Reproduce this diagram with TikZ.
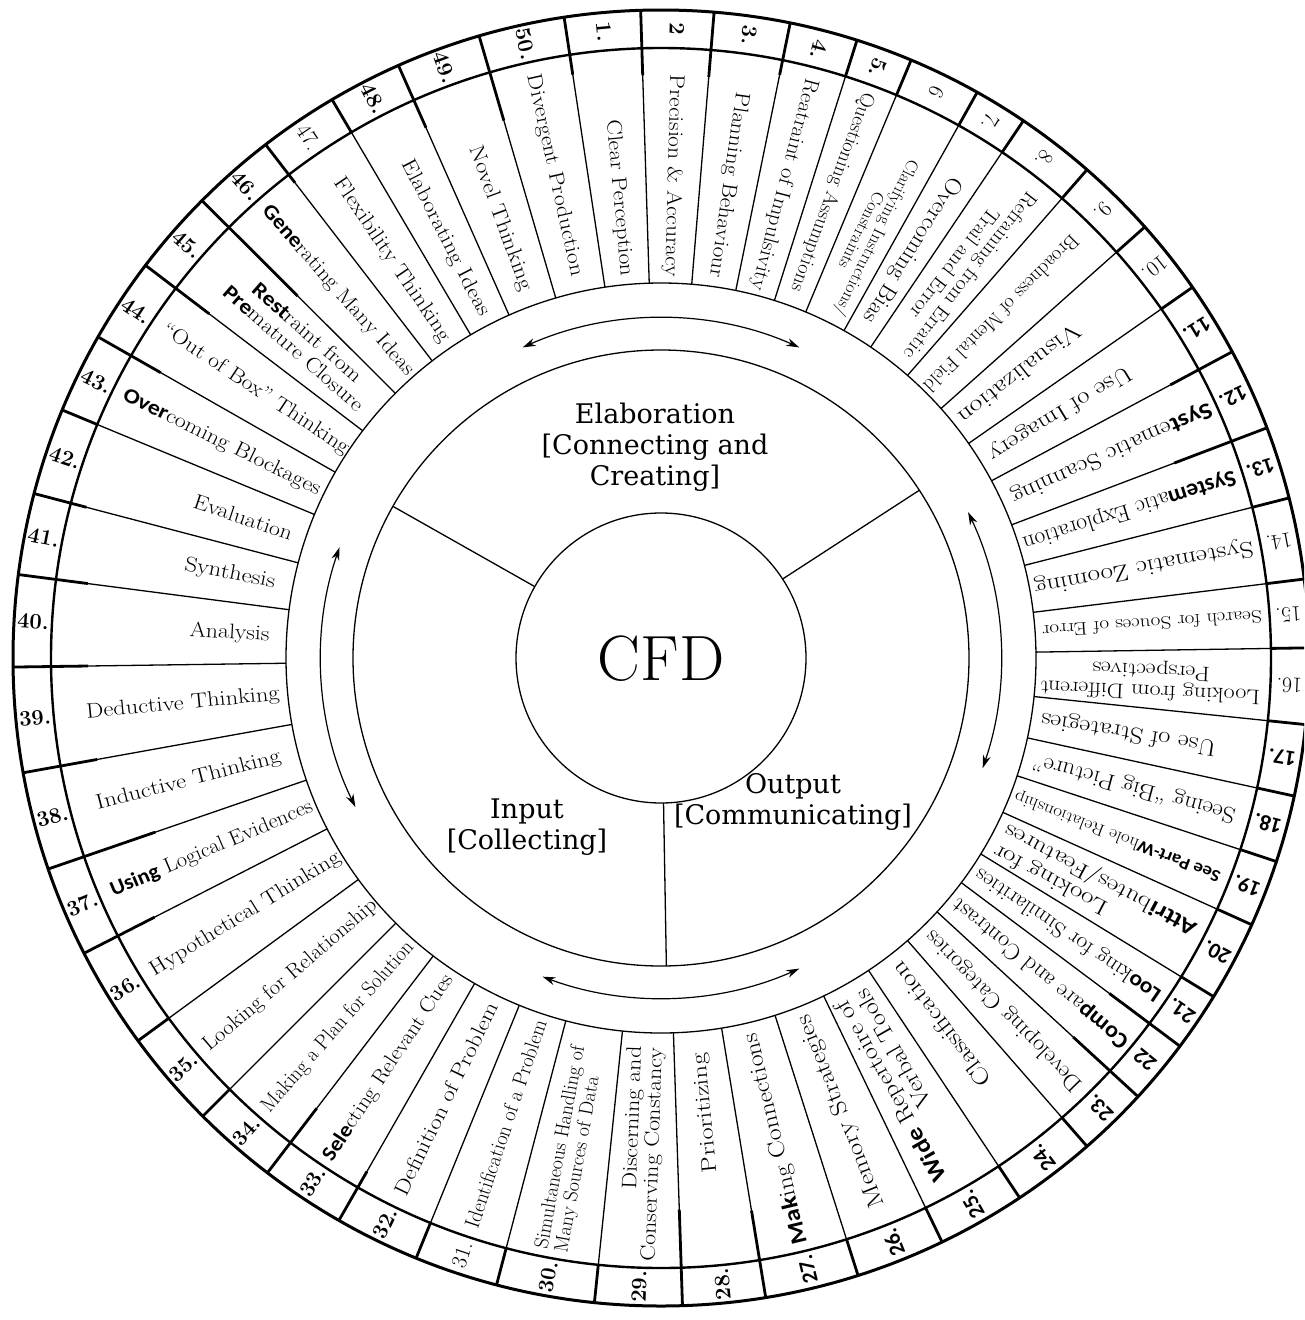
\documentclass[tikz,border=0pt]{standalone}
\usepackage{fontspec}
\usepackage{graphicx}
\usetikzlibrary{arrows.meta}
\newfontfamily\widefont{DejaVu Serif}
\newfontfamily\overlayfont{Carlito}
\newcommand\ov[1]{{\overlayfont\bfseries #1}}
% sector label: name, mid angle, inner end radius, length along the ray, font size, text
\newcommand\seg[6]{\node[segtext, rotate={#2+180}] (#1) at ({#2}:{#3pt})
  {\resizebox{#4pt}{\height}{\fontsize{#5}{#5}\selectfont #6}};}
% ring number: name, angle, text
\newcommand\num[3]{\node[numtext, rotate={#2+180}] (#1) at ({#2}:629pt) {#3};}
\begin{document}
\begin{tikzpicture}[x=1pt,y=1pt,
  ringline/.style={line width=2.8pt},
  segline/.style={line width=1.3pt},
  thinring/.style={line width=1.3pt},
  arr/.style={line width=1.2pt,{Stealth[length=13pt,width=8pt]}-{Stealth[length=13pt,width=8pt]}},
  segtext/.style={anchor=east, inner sep=0pt},
  numtext/.style={inner sep=0pt, font=\fontsize{22}{24}\selectfont},
  midlabel/.style={align=center, inner sep=0pt, font=\widefont\fontsize{27}{31}\selectfont}]
\useasboundingbox (0,0) rectangle (1304,-1320);
\clip (0,0) rectangle (1304,-1320);
\fill[white] (0,0) rectangle (1304,-1320);
\begin{scope}[shift={(661,-658)}]
  % circles
  \draw[line width=3pt] (0,0) circle[radius=648pt];
  \draw[line width=2.4pt] (0,0) circle[radius=610pt];
  \draw[thinring] (0,0) circle[radius=375pt];
  \draw[thinring] (0,0) circle[radius=308pt];
  \draw[thinring] (0,0) circle[radius=145pt];
  % sector boundaries
  \foreach \a in {98.6,91.8,85.3,78.5,72.4,67.3,60.8,56.0,48.9,41.7,34.9,28.2,20.8,14.3,7.0,0.9,
                  -5.9,-12.3,-18.3,-24.3,-31.5,-36.8,-42.6,-48.9,-56.4,-64.3,-72.3,-80.7,-88.1,-95.9,
                  -104.7,-112.2,-119.8,-127.4,-135,-143.8,-152.9,-161,-169.8,-179.2,
                  172.6,165.3,157.5,150.3,142.7,135.1,127.6,120.5,113.9,106.3}{
    \draw[segline] (\a:375pt) -- (\a:610pt);
    \draw[ringline] (\a:610pt) -- (\a:648pt);
  }
  % heavier stubs running in from the number ring
  \foreach \a/\r in {106.3/560,98.6/590,91.8/583,85.3/583,78.5/595,28.2/578,20.8/549,
                     -36.8/560,-42.6/560,-80.7/560,-88.1/552,-119.8/592,-127.4/567,
                     -152.9/569,-161/535,-169.8/573,-179.2/573,172.6/578,165.3/594,
                     150.3/576,142.7/568,135.1/513,127.6/600,113.9/580}{
    \draw[ringline] (\a:\r pt) -- (\a:610pt);
  }
  % inner dividers
  \draw[thinring] (150.5:145pt) -- (150.5:308pt);
  \draw[thinring] (33:145pt) -- (33:308pt);
  \draw[thinring] (-89:145pt) -- (-89:308pt);
  % cycle arrows
  \draw[arr] (66:340pt) arc[start angle=66, end angle=114, radius=340pt];
  \draw[arr] (25.4:340pt) arc[start angle=25.4, end angle=-18.9, radius=340pt];
  \draw[arr] (-66:340pt) arc[start angle=-66, end angle=-110.4, radius=340pt];
  \draw[arr] (161:340pt) arc[start angle=161, end angle=206, radius=340pt];
  % centre labels
  \node[font=\fontsize{64}{64}\selectfont, inner sep=0pt] (cfd) at (0,-1) {CFD};
  \node[midlabel] (elab) at (-6,211) {Elaboration\\{[}Connecting and\\Creating]};
  \node[midlabel] (inp) at (-134,-169) {Input\\{[}Collecting]};
  \node[midlabel] (outp) at (132,-144) {Output\\{[}Communicating]};
  % ring numbers
  \num{n1}{95.2}{\bfseries 1.}
  \num{n2}{88.55}{\bfseries 2}
  \num{n3}{81.9}{\bfseries 3.}
  \num{n4}{75.45}{\bfseries 4.}
  \num{n5}{69.85}{\bfseries 5.}
  \num{n6}{64.05}{6}
  \num{n7}{58.4}{7.}
  \num{n8}{52.45}{8.}
  \num{n9}{45.3}{9.}
  \num{n10}{38.3}{10.}
  \num{n11}{31.55}{\ov{11.}}
  \num{n12}{24.5}{\ov{12.}}
  \num{n13}{17.55}{\ov{13.}}
  \num{n14}{10.65}{14.}
  \num{n15}{3.95}{15.}
  \num{n16}{-2.5}{16.}
  \num{n17}{-9.1}{\ov{17.}}
  \num{n18}{-15.3}{\ov{18.}}
  \num{n19}{-21.3}{\ov{19.}}
  \num{n20}{-27.9}{\ov{20.}}
  \num{n21}{-34.15}{\ov{21.}}
  \num{n22}{-39.7}{\ov{22}}
  \num{n23}{-45.75}{\ov{23.}}
  \num{n24}{-52.65}{\ov{24.}}
  \num{n25}{-60.35}{\ov{25.}}
  \num{n26}{-68.3}{\ov{26.}}
  \num{n27}{-76.5}{\ov{27.}}
  \num{n28}{-84.4}{\bfseries 28.}
  \num{n29}{-92}{\bfseries 29.}
  \num{n30}{-100.3}{\bfseries 30.}
  \num{n31}{-108.45}{31.}
  \num{n32}{-116}{\bfseries 32.}
  \num{n33}{-123.6}{\bfseries 33.}
  \num{n34}{-131.2}{\bfseries 34.}
  \num{n35}{-139.4}{\bfseries 35.}
  \num{n36}{-148.35}{\bfseries 36.}
  \num{n37}{-156.95}{\bfseries 37.}
  \num{n38}{-165.4}{\bfseries 38.}
  \num{n39}{-174.5}{\bfseries 39.}
  \num{n40}{-183.3}{\bfseries 40.}
  \num{n41}{-191.05}{\bfseries 41.}
  \num{n42}{-198.6}{\bfseries 42.}
  \num{n43}{-206.1}{\bfseries 43.}
  \num{n44}{-213.5}{\bfseries 44.}
  \num{n45}{-221.1}{\bfseries 45.}
  \num{n46}{-228.65}{\bfseries 46.}
  \num{n47}{-235.95}{47.}
  \num{n48}{-242.8}{\bfseries 48.}
  \num{n49}{-249.9}{\bfseries 49.}
  \num{n50}{-257.55}{\bfseries 50.}
  % sector texts
  \seg{t1}{95.2}{383}{157}{21}{Clear Perception}
  \seg{t2}{88.55}{381}{202}{21}{Precision \& Accuracy}
  \seg{t3}{81.9}{384}{187}{21}{Planning Behaviour}
  \seg{t4}{75.45}{380}{218}{21}{Reatraint of Impulsivity}
  \seg{t5}{69.85}{391}{210}{20}{Questioning Assumptions}
  \seg{t6}{64.05}{386}{172}{17}{\begin{tabular}{@{}c@{}}Clarifying Instructions/\\Constraints\end{tabular}}
  \seg{t7}{58.4}{395}{168}{23}{Overcoming Bias}
  \seg{t8}{52.45}{389}{205}{20}{\begin{tabular}{@{}c@{}}Refraining from Erratic\\Trail and Error\end{tabular}}
  \seg{t9}{45.3}{378}{212}{20}{Broadness of Mental Field}
  \seg{t10}{38.3}{383}{149}{23}{Visualization}
  \seg{t11}{31.55}{386}{164}{23}{Use of Imagery}
  \seg{t12}{24.5}{386}{218}{23}{\ov{Syst}ematic Scanning}
  \seg{t13}{17.55}{380}{222}{23}{\ov{System}atic Exploration}
  \seg{t14}{10.65}{380}{222}{23}{Systematic Zooming}
  \seg{t15}{3.95}{382}{220}{18}{Search for Souces of Error}
  \seg{t16}{-2.5}{380}{220}{21}{\begin{tabular}{@{}c@{}}Looking from Different\\Perspectives\end{tabular}}
  \seg{t17}{-9.1}{385}{177}{23}{Use of Strategies}
  \seg{t18}{-15.3}{386}{209}{23}{Seeing “Big Picture”}
  \seg{t19}{-21.3}{380}{220}{17}{\ov{See Part-W}hole Relationship}
  \seg{t20}{-27.9}{385}{214}{22}{\begin{tabular}{@{}r@{}}Looking for\\\ov{Attri}butes/Features\end{tabular}}
  \seg{t21}{-34.15}{382}{220}{22}{\ov{Loo}king for Similarities}
  \seg{t22}{-39.7}{382}{222}{23}{\ov{Comp}are and Contrast}
  \seg{t23}{-45.75}{384}{216}{23}{Developing Categories}
  \seg{t24}{-52.65}{386}{150}{23}{Classification}
  \seg{t25}{-60.35}{388}{204}{23}{\begin{tabular}{@{}r@{}}\ov{Wide} Repertoire of\\Verbal Tools\end{tabular}}
  \seg{t26}{-68.3}{385}{205}{23}{Memory Strategies}
  \seg{t27}{-76.5}{386}{216}{23}{\ov{Mak}ing Connections}
  \seg{t28}{-84.4}{397}{120}{21}{Prioritizing}
  \seg{t29}{-92}{389}{214}{21}{\begin{tabular}{@{}r@{}}Discerning and\\Conserving Constancy\end{tabular}}
  \seg{t30}{-100.3}{396}{206}{20}{\begin{tabular}{@{}l@{}}Simultaneous Handling of\\Many Sources of Data\end{tabular}}
  \seg{t31}{-108.45}{382}{218}{21}{Identification of a Problem}
  \seg{t32}{-116}{384}{212}{21}{Definition of Problem}
  \seg{t33}{-123.6}{382}{220}{21}{\ov{Sele}cting Relevant Cues}
  \seg{t34}{-131.2}{380}{220}{21}{Making a Plan for Solution}
  \seg{t35}{-139.4}{377}{222}{21}{Looking for Relationship}
  \seg{t36}{-148.35}{378}{220}{21}{Hypothetical Thinking}
  \seg{t37}{-156.95}{379}{218}{21}{\ov{Using} Logical Evidences}
  \seg{t38}{-165.4}{393}{190}{21}{Inductive Thinking}
  \seg{t39}{-174.5}{383}{194}{21}{Deductive Thinking}
  \seg{t40}{-183.3}{392}{80}{21}{Analysis}
  \seg{t41}{-191.05}{393}{92}{21}{Synthesis}
  \seg{t42}{-198.6}{389}{103}{21}{Evaluation}
  \seg{t43}{-206.1}{380}{218}{21}{\ov{Over}coming Blockages}
  \seg{t44}{-213.5}{376}{220}{21}{“Out of Box” Thinking}
  \seg{t45}{-221.1}{390}{180}{21}{\begin{tabular}{@{}c@{}}\ov{Rest}raint from\\\ov{Pre}mature Closure\end{tabular}}
  \seg{t46}{-228.65}{379}{220}{21}{\ov{Gene}rating Many Ideas}
  \seg{t47}{-235.95}{383}{194}{21}{Flexibility Thinking}
  \seg{t48}{-242.8}{385}{173}{21}{Elaborating Ideas}
  \seg{t49}{-249.9}{391}{153}{21}{Novel Thinking}
  \seg{t50}{-257.55}{391}{206}{21}{Divergent Production}
\end{scope}
\end{tikzpicture}
\end{document}
